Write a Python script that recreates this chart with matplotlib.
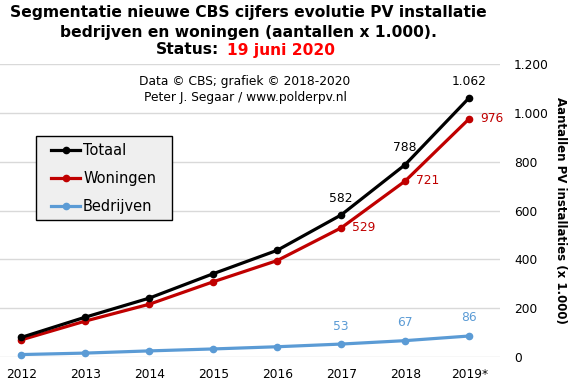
import matplotlib
matplotlib.use("Agg")
import matplotlib.pyplot as plt
from matplotlib.patches import Rectangle
from matplotlib.ticker import FuncFormatter

# data (x 1.000 installaties)
years = ["2012", "2013", "2014", "2015", "2016", "2017", "2018", "2019*"]
totaal = [80, 163, 241, 341, 437, 582, 788, 1062]
woningen = [70, 147, 216, 308, 395, 529, 721, 976]
bedrijven = [10, 16, 25, 33, 42, 53, 67, 86]
yticks = [0, 200, 400, 600, 800, 1000, 1200]

BLACK = "#000000"
RED = "#c00000"
BLUE = "#5b9bd5"

W, H = 571, 388
fig = plt.figure(figsize=(W / 100, H / 100), dpi=100)
ax = fig.add_axes([0, (H - 357) / H, 500 / W, 293 / H])

x = list(range(len(years)))
series = [("Totaal", totaal, BLACK), ("Woningen", woningen, RED), ("Bedrijven", bedrijven, BLUE)]
for name, vals, col in series[::-1]:
    ax.plot(x, vals, color=col, lw=2.3, marker="o", ms=4.5, label=name, clip_on=False)

ax.set_xlim(-0.33, 7.48)
ax.set_ylim(0, 1200)
ax.set_yticks(yticks)
ax.yaxis.set_major_formatter(FuncFormatter(lambda v, p: f"{int(v):,}".replace(",", ".")))
ax.yaxis.tick_right()
ax.tick_params(axis="y", length=0, pad=10, labelsize=8.8)
ax.set_xticks(x)
ax.set_xticklabels(years)
ax.tick_params(axis="x", length=0, pad=8, labelsize=8.8)
ax.grid(axis="y", color="#d9d9d9", lw=1)
ax.set_axisbelow(True)
for s in ax.spines.values():
    s.set_visible(False)

# value labels
for i in [5, 6, 7]:
    lbl = f"{totaal[i]:,}".replace(",", ".")
    ax.annotate(lbl, (i, totaal[i]), xytext=(0, 12), textcoords="offset points",
                ha="center", va="center", fontsize=8.8, color=BLACK)
    ax.annotate(str(woningen[i]), (i, woningen[i]), xytext=(8, 0), textcoords="offset points",
                ha="left", va="center", fontsize=8.8, color=RED)
    ax.annotate(str(bedrijven[i]), (i, bedrijven[i]), xytext=(0, 13), textcoords="offset points",
                ha="center", va="center", fontsize=8.8, color=BLUE)

# legend: own frame, entries without frame
fig.patches.append(Rectangle((36 / W, 1 - 220 / H), 136 / W, 84 / H, transform=fig.transFigure,
                             facecolor="#efefef", edgecolor="black", lw=1, zorder=3))
h, l = ax.get_legend_handles_labels()
leg = fig.legend(h[::-1], l[::-1], loc="upper left", bbox_to_anchor=(51 / W, 1 - 143 / H),
                 fontsize=10.5, frameon=False, handlelength=2.0, handletextpad=0.2,
                 labelspacing=0.88, borderpad=0, borderaxespad=0)
leg.set_zorder(4)

ax.text(561 / 500, 0.5, "Aantallen PV installaties (x 1.000)", transform=ax.transAxes,
        rotation=270, ha="center", va="center", fontsize=8.5, fontweight="bold")

# title
fig.text(248 / W, 1 - 12 / H, "Segmentatie nieuwe CBS cijfers evolutie PV installatie",
         ha="center", va="center", fontsize=11.2, fontweight="bold")
fig.text(248 / W, 1 - 32 / H, "bedrijven en woningen (aantallen x 1.000).",
         ha="center", va="center", fontsize=11.2, fontweight="bold")
fig.text(219 / W, 1 - 50 / H, "Status:", ha="right", va="center", fontsize=11.2, fontweight="bold")
fig.text(227 / W, 1 - 50 / H, "19 juni 2020", ha="left", va="center", fontsize=11.2,
         fontweight="bold", color="#ff0000")

fig.text(245 / W, 1 - 81 / H, "Data \u00a9 CBS; grafiek \u00a9 2018-2020", ha="center", va="center", fontsize=8.8)
fig.text(245 / W, 1 - 97 / H, "Peter J. Segaar / www.polderpv.nl", ha="center", va="center", fontsize=8.8)

fig.savefig("out.png", dpi=100)
